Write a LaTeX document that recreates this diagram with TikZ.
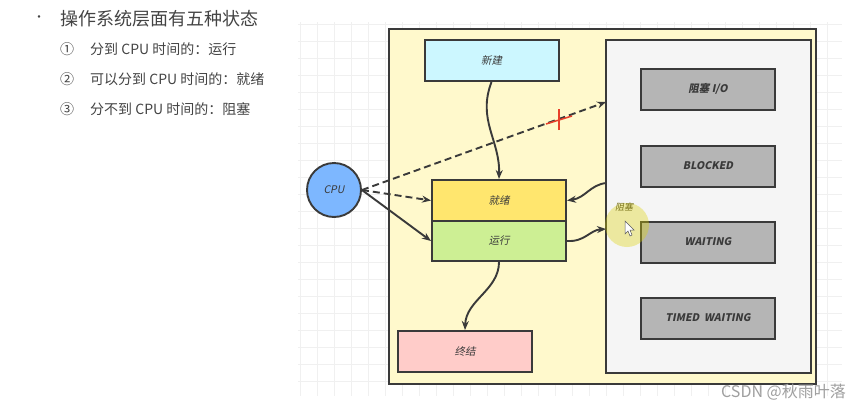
\documentclass[tikz,border=0pt]{standalone}
\usepackage{fontspec}
\setmainfont{Noto Sans CJK SC}
\newfontfamily\cjk{Noto Sans CJK SC}
\newfontfamily\cjki[FakeSlant=0.2]{Noto Sans CJK SC}
\usetikzlibrary{arrows.meta}
\definecolor{frame}{HTML}{3A3A3A}
\definecolor{yelbg}{HTML}{FFF9CC}
\definecolor{panel}{HTML}{F5F5F5}
\definecolor{cyanbox}{HTML}{CCF7FF}
\definecolor{readybox}{HTML}{FFE66E}
\definecolor{runbox}{HTML}{CDEF94}
\definecolor{endbox}{HTML}{FFCCC9}
\definecolor{graybox}{HTML}{B5B5B5}
\definecolor{cpublue}{HTML}{7DB7FF}
\definecolor{txtgray}{HTML}{444444}
\definecolor{crossred}{HTML}{E8402A}
\tikzset{
  statebox/.style={draw=frame, line width=2pt, minimum width=134pt, minimum height=41pt, inner sep=0pt, font=\cjki\fontsize{10.5}{12}\selectfont, text=frame},
  blkbox/.style={statebox, fill=graybox, font=\cjki\bfseries\fontsize{10.5}{12}\selectfont},
  conn/.style={draw=frame, line width=1.9pt, -{Stealth[length=9pt,width=7pt]}},
  dconn/.style={conn, dash pattern=on 7pt off 4pt},
  listtxt/.style={anchor=west, font=\cjk\fontsize{14}{16}\selectfont, text=txtgray, inner sep=0pt}
}
\begin{document}
\begin{tikzpicture}[x=1pt,y=-1pt]
\useasboundingbox (0,0) rectangle (860,410);
\fill[white] (0,0) rectangle (860,410);
% grid
\foreach \gx in {300,317,...,842} {\draw[gray!12, line width=0.5pt] (\gx,22) -- (\gx,396);}
\foreach \gy in {24,41,...,396} {\draw[gray!12, line width=0.5pt] (298,\gy) -- (842,\gy);}
% text
\node[listtxt, font=\cjk\fontsize{12}{14}\selectfont] (bul) at (33,19) {•};
\node[listtxt, font=\cjk\fontsize{18}{20}\selectfont] (title) at (60,19) {操作系统层面有五种状态};
\node[listtxt] (n1) at (60,49) {①};
\node[listtxt] (t1) at (90,49) {分到 CPU 时间的：运行};
\node[listtxt] (n2) at (60,79) {②};
\node[listtxt] (t2) at (90,79) {可以分到 CPU 时间的：就绪};
\node[listtxt] (n3) at (60,109) {③};
\node[listtxt] (t3) at (90,109) {分不到 CPU 时间的：阻塞};
% main containers
\node[draw=frame, line width=2.1pt, fill=yelbg, minimum width=427pt, minimum height=355pt, inner sep=0pt] (main) at (602.5,206.5) {};
\node[draw=frame, line width=2pt, fill=panel, minimum width=205pt, minimum height=333pt, inner sep=0pt] (pan) at (708.5,206.5) {};
% states
\node[statebox, fill=cyanbox] (new) at (491.5,60.5) {新建};
\node[statebox, fill=readybox] (ready) at (499,200.5) {就绪};
\node[statebox, fill=runbox, minimum height=40pt] (run) at (499,241) {运行};
\node[statebox, fill=endbox] (term) at (465,351.5) {终结};
\node[blkbox] (bio) at (708,89) {阻塞 I/O};
\node[blkbox] (blocked) at (708,166) {BLOCKED};
\node[blkbox] (waiting) at (708,242) {WAITING};
\node[blkbox] (timed) at (708,318) {TIMED\ \ WAITING};
% cpu
\node[circle, draw=frame, line width=1.9pt, fill=cpublue, minimum size=54pt, inner sep=0pt, font=\cjki\fontsize{10.5}{12}\selectfont, text=frame] (cpu) at (334,190) {CPU};
% connectors
\coordinate (panin) at (606,102);
\draw[dconn] (cpu.east) -- (panin);
\draw[dconn] (cpu.east) -- (ready.west);
\draw[conn] (cpu.east) -- (run.west);
\draw[conn] (new.south) .. controls (477,120) and (500,140) .. (ready.north);
\coordinate (panout) at (606,183);
\draw[conn] (panout) .. controls (590,185) and (585,198) .. (ready.east);
\coordinate (panin2) at (606,229);
\draw[conn] (run.east) .. controls (585,242) and (590,230) .. (panin2);
\draw[conn] (run.south) .. controls (499,290) and (466,300) .. (term.north);
% red cross
\coordinate (xc) at (559,120);
\draw[crossred, line width=1.5pt] ([xshift=-13pt,yshift=-4pt]xc) -- ([xshift=13pt,yshift=4pt]xc);
\draw[crossred, line width=1.5pt] ([yshift=-10pt]xc) -- ([yshift=11pt]xc);
% cursor highlight
\fill[yellow!70!olive, opacity=0.35] (627,225) circle (22pt);
\node[font=\cjki\fontsize{9}{10}\selectfont, text=olive!80!black, inner sep=0pt] (blk) at (624,207) {阻塞};
\draw[gray!70!black, fill=white, line width=0.5pt] (625,221) -- (625,234) -- (628,231) -- (630,236) -- (632,235) -- (630,230) -- (634,230) -- cycle;
% watermark
\node[anchor=east, font=\cjk\fontsize{16}{18}\selectfont, text=gray!75, inner sep=0pt] (wm) at (846,392) {CSDN @秋雨叶落};
\end{tikzpicture}
\end{document}
